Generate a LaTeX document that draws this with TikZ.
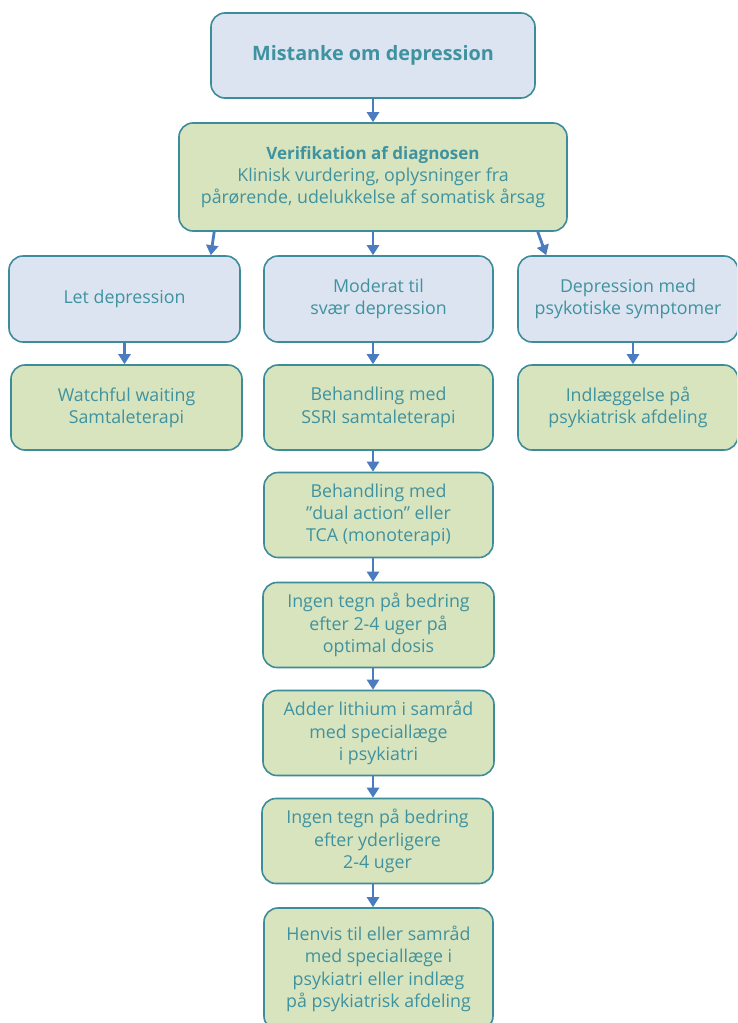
\documentclass[tikz,border=0pt]{standalone}
\usepackage{fontspec}
\setmainfont{Open Sans}
\usetikzlibrary{arrows.meta,calc}
\definecolor{frame}{HTML}{3D8C9A}
\definecolor{ink}{HTML}{3F929F}
\definecolor{bluefill}{HTML}{DDE4F1}
\definecolor{greenfill}{HTML}{D8E4BE}
\definecolor{arrowblue}{HTML}{4A7CBF}
\tikzset{
  box/.style={draw=frame, line width=1.6pt, rounded corners=14pt, align=center,
    text=ink, inner sep=0pt, font=\fontsize{17.8}{22.3}\selectfont},
  bluebox/.style={box, fill=bluefill},
  greenbox/.style={box, fill=greenfill},
  arr/.style={draw=arrowblue, line width=2.8pt,
    -{Triangle[width=12pt,length=10pt,fill=arrowblue]}}
}
\begin{document}
\begin{tikzpicture}[x=1pt,y=-1pt]
\clip (0,0) rectangle (737,1023);
\fill[white] (0,0) rectangle (737,1023);

% top of the chart
\node[bluebox, minimum width=324pt, minimum height=85pt] (top) at (373,55.5)
  {\fontsize{19.8}{22}\selectfont\bfseries Mistanke om depression};
\node[greenbox, minimum width=388pt, minimum height=108pt] (verif) at (373,177)
  {{\bfseries\fontsize{17}{22.3}\selectfont Verifikation af diagnosen}\\
   Klinisk vurdering, oplysninger fra\\
   pårørende, udelukkelse af somatisk årsag};

% three severity branches
\node[bluebox, minimum width=231pt, minimum height=86pt] (let) at (124.5,299)
  {Let depression};
\node[bluebox, minimum width=229pt, minimum height=86pt] (mod) at (378.5,299)
  {Moderat til\\svær depression};
\node[bluebox, minimum width=220pt, minimum height=86pt] (psy) at (628,299)
  {Depression med\\psykotiske symptomer};

% first treatment row
\node[greenbox, minimum width=231pt, minimum height=85pt] (watch) at (126.5,407.5)
  {Watchful waiting\\Samtaleterapi};
\node[greenbox, minimum width=229pt, minimum height=85pt] (ssri) at (378.5,407.5)
  {Behandling med\\SSRI samtaleterapi};
\node[greenbox, minimum width=220pt, minimum height=85pt] (indl) at (628,407.5)
  {Indlæggelse på\\psykiatrisk afdeling};

% escalation in the middle column
\node[greenbox, minimum width=229pt, minimum height=85pt] (dual) at (378.5,515)
  {Behandling med\\”dual action” eller\\TCA (monoterapi)};
\node[greenbox, minimum width=231pt, minimum height=85pt] (ingen1) at (378.5,625)
  {Ingen tegn på bedring\\efter 2-4 uger på\\optimal dosis};
\node[greenbox, minimum width=231pt, minimum height=85pt] (lith) at (378.5,733)
  {Adder lithium i samråd\\med speciallæge\\i psykiatri};
\node[greenbox, minimum width=231pt, minimum height=85pt] (ingen2) at (377.5,841)
  {Ingen tegn på bedring\\efter yderligere\\2-4 uger};
\node[greenbox, minimum width=229pt, minimum height=122pt] (henvis) at (378.5,969)
  {Henvis til eller samråd\\med speciallæge i\\psykiatri eller indlæg\\på psykiatrisk afdeling};

% connectors
\draw[arr] (top.south) -- (verif.north);
\draw[arr] ($(verif.south west)+(36,0)$) -- ($(let.north east)+(-30,0)$);
\draw[arr] (verif.south) -- (mod.north -| verif.south);
\draw[arr] ($(verif.south east)+(-30,0)$) -- ($(psy.north west)+(29,0)$);
\draw[arr] (let.south) -- (watch.north -| let.south);
\draw[arr] ($(psy.south)+(5,0)$) -- ($(indl.north)+(5,0)$);
\draw[arr] (mod.south -| top.south) -- (ssri.north -| top.south);
\draw[arr] (ssri.south -| top.south) -- (dual.north -| top.south);
\draw[arr] (dual.south -| top.south) -- (ingen1.north -| top.south);
\draw[arr] (ingen1.south -| top.south) -- (lith.north -| top.south);
\draw[arr] (lith.south -| top.south) -- (ingen2.north -| top.south);
\draw[arr] (ingen2.south -| top.south) -- (henvis.north -| top.south);
\end{tikzpicture}
\end{document}
